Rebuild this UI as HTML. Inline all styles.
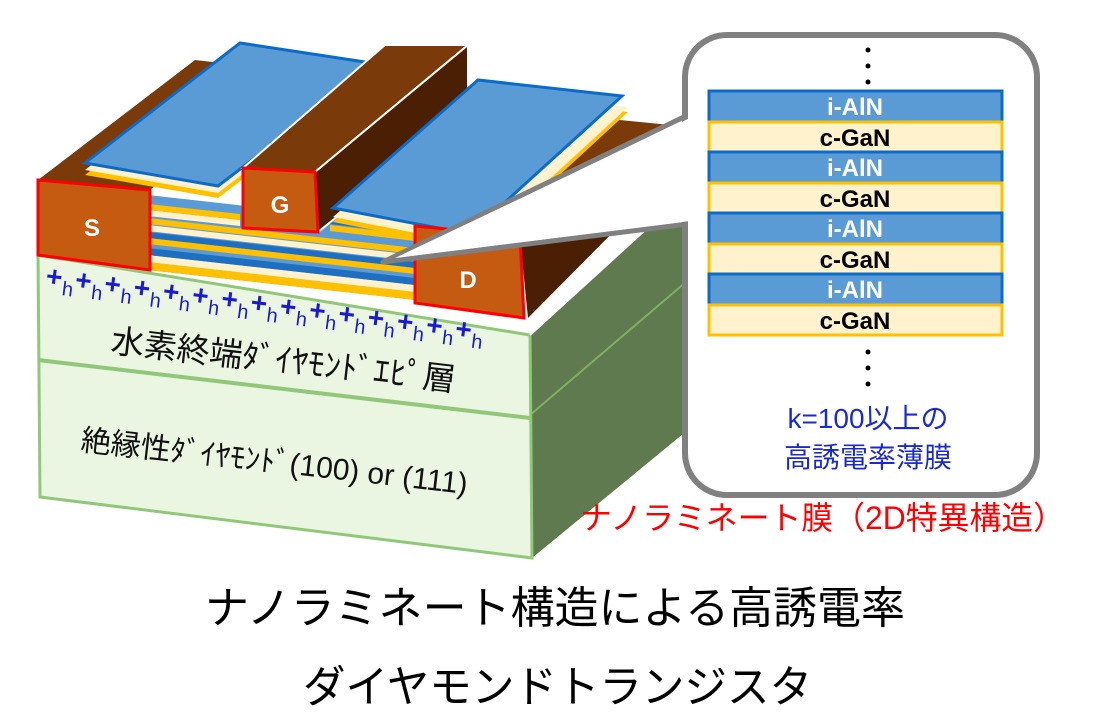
<!DOCTYPE html>
<html><head><meta charset="utf-8"><style>
html,body{margin:0;padding:0;background:#fff;}
svg{display:block;}
text{font-family:"Liberation Sans","Noto Sans CJK JP",sans-serif;}
</style></head><body>
<svg width="1112" height="728" viewBox="0 0 1112 728" xmlns="http://www.w3.org/2000/svg">
<!-- green block -->
<polygon points="530,335 700,180 700,420 532,558" fill="#5f7a4f"/>
<line x1="530" y1="415" x2="700" y2="270" stroke="#7fb060" stroke-width="2"/>
<polygon points="38,255 530,335 532,558 40,497" fill="#eaf6e2" stroke="#90c878" stroke-width="3"/>
<line x1="38" y1="360" x2="530" y2="418" stroke="#90c878" stroke-width="4"/>
<line x1="530" y1="335" x2="700" y2="180" stroke="#fff" stroke-width="2"/>

<!-- S bar top -->
<polygon points="38,180 195,60 300,72 150,190" fill="#7a3a0a"/>
<!-- D bar top -->
<polygon points="415,228 600,118 700,128 520,238" fill="#7a3a0a"/>

<!-- front layer stack between S and D -->
<g>
<polygon points="148,195 415,225 415,300 148,270" fill="#5b9bd5"/>
<polygon points="148,262 415,292 415,300 148,270" fill="#ffc000"/>
<polygon points="148,255 415,285 415,292 148,262" fill="#fff2cc"/>
<polygon points="148,248 415,278 415,285 148,255" fill="#1f6fc0"/>
<polygon points="148,232 415,262 415,268 148,238" fill="#1f6fc0"/>
<polygon points="148,238 415,268 415,274 148,244" fill="#ffc000"/>
<polygon points="148,225 415,255 415,261 148,231" fill="#fff2cc"/>
<polygon points="148,218 415,248 415,254 148,224" fill="#ffc000"/>
<polygon points="148,210 240,220 240,226 148,216" fill="#fff2cc"/>
<polygon points="148,204 240,214 240,220 148,210" fill="#ffc000"/>
<polygon points="330,225 415,235 415,241 330,231" fill="#ffc000"/>
<polygon points="330,218 415,228 415,234 330,224" fill="#1f6fc0"/>
</g>

<!-- S front -->
<polygon points="38,180 150,190 150,270 38,255" fill="#c55a11" stroke="#f00" stroke-width="3"/>
<text x="92" y="236" font-size="24" font-weight="bold" fill="#fff" text-anchor="middle">S</text>

<!-- left plate -->
<polygon points="85,175 240,55 378,76 218,198" fill="#ffc000"/>
<polygon points="85,170 240,50 378,71 218,193" fill="#fff2cc"/>
<polygon points="85,163 240,43 378,64 218,186" fill="#5b9bd5" stroke="#0a6cc8" stroke-width="3"/>

<!-- G bar -->
<polygon points="243,168 385,45 468,45 315,172" fill="#7a3a0a" stroke="#fff" stroke-width="2"/>
<polygon points="315,172 468,45 468,112 318,232" fill="#4a1f04" stroke="#fff" stroke-width="2"/>
<polygon points="243,168 315,172 318,232 243,228" fill="#c55a11" stroke="#f00" stroke-width="3"/>
<text x="280" y="213" font-size="24" font-weight="bold" fill="#fff" text-anchor="middle">G</text>

<!-- right plate -->
<polygon points="333,222 480,95 628,112 478,250" fill="#ffc000"/>
<polygon points="333,217 480,90 628,107 478,245" fill="#fff2cc"/>
<polygon points="333,208 478,80 622,96 470,234" fill="#5b9bd5" stroke="#0a6cc8" stroke-width="3"/>

<!-- D -->
<polygon points="520,238 640,205 528,318" fill="#4a1f04"/>
<polygon points="415,226 520,236 524,318 415,303" fill="#c55a11" stroke="#f00" stroke-width="3"/>
<text x="468" y="288" font-size="24" font-weight="bold" fill="#fff" text-anchor="middle">D</text>

<!-- +h -->
<g transform="translate(45,285) rotate(7.3)" fill="#1a1ad0">
<text x="0" y="0" font-size="28" font-weight="bold" letter-spacing="1">+<tspan font-size="20" font-weight="normal" dy="8">h</tspan><tspan dy="-8">+</tspan><tspan font-size="20" font-weight="normal" dy="8">h</tspan><tspan dy="-8">+</tspan><tspan font-size="20" font-weight="normal" dy="8">h</tspan><tspan dy="-8">+</tspan><tspan font-size="20" font-weight="normal" dy="8">h</tspan><tspan dy="-8">+</tspan><tspan font-size="20" font-weight="normal" dy="8">h</tspan><tspan dy="-8">+</tspan><tspan font-size="20" font-weight="normal" dy="8">h</tspan><tspan dy="-8">+</tspan><tspan font-size="20" font-weight="normal" dy="8">h</tspan><tspan dy="-8">+</tspan><tspan font-size="20" font-weight="normal" dy="8">h</tspan><tspan dy="-8">+</tspan><tspan font-size="20" font-weight="normal" dy="8">h</tspan><tspan dy="-8">+</tspan><tspan font-size="20" font-weight="normal" dy="8">h</tspan><tspan dy="-8">+</tspan><tspan font-size="20" font-weight="normal" dy="8">h</tspan><tspan dy="-8">+</tspan><tspan font-size="20" font-weight="normal" dy="8">h</tspan><tspan dy="-8">+</tspan><tspan font-size="20" font-weight="normal" dy="8">h</tspan><tspan dy="-8">+</tspan><tspan font-size="20" font-weight="normal" dy="8">h</tspan><tspan dy="-8">+</tspan><tspan font-size="20" font-weight="normal" dy="8">h</tspan></text>
</g>
<text transform="translate(110,352) rotate(6.5)" font-size="33" fill="#111">水素終端ﾀﾞｲﾔﾓﾝﾄﾞｴﾋﾟ層</text>
<text transform="translate(80,450) rotate(6.5)" font-size="30" fill="#111">絶縁性ﾀﾞｲﾔﾓﾝﾄﾞ(100) or (111)</text>

<!-- callout -->
<polygon points="688,115 383,262 688,224" fill="#fff" stroke="#808080" stroke-width="5" stroke-linejoin="round"/>
<rect x="685" y="35" width="352" height="460" rx="42" fill="#fff" stroke="#808080" stroke-width="6"/>
<polygon points="690,118 395,258 690,221" fill="#fff"/>

<g font-size="24" font-weight="bold" text-anchor="middle">
<rect x="709" y="91" width="293" height="31" fill="#5b9bd5" stroke="#0a6cc8" stroke-width="3"/>
<rect x="709" y="122" width="293" height="30" fill="#fff2cc" stroke="#ffc000" stroke-width="3"/>
<rect x="709" y="152" width="293" height="31" fill="#5b9bd5" stroke="#0a6cc8" stroke-width="3"/>
<rect x="709" y="183" width="293" height="30" fill="#fff2cc" stroke="#ffc000" stroke-width="3"/>
<rect x="709" y="213" width="293" height="31" fill="#5b9bd5" stroke="#0a6cc8" stroke-width="3"/>
<rect x="709" y="244" width="293" height="30" fill="#fff2cc" stroke="#ffc000" stroke-width="3"/>
<rect x="709" y="274" width="293" height="31" fill="#5b9bd5" stroke="#0a6cc8" stroke-width="3"/>
<rect x="709" y="305" width="293" height="30" fill="#fff2cc" stroke="#ffc000" stroke-width="3"/>
<text x="855" y="115" fill="#fff">i-AlN</text>
<text x="855" y="146" fill="#000">c-GaN</text>
<text x="855" y="176" fill="#fff">i-AlN</text>
<text x="855" y="207" fill="#000">c-GaN</text>
<text x="855" y="237" fill="#fff">i-AlN</text>
<text x="855" y="268" fill="#000">c-GaN</text>
<text x="855" y="298" fill="#fff">i-AlN</text>
<text x="855" y="329" fill="#000">c-GaN</text>
</g>
<g fill="#000">
<circle cx="868" cy="50" r="2.5"/><circle cx="868" cy="66" r="2.5"/><circle cx="868" cy="82" r="2.5"/>
<circle cx="868" cy="352" r="2.5"/><circle cx="868" cy="368" r="2.5"/><circle cx="868" cy="384" r="2.5"/>
</g>
<text x="868" y="428" font-size="28" fill="#1a2ad0" text-anchor="middle">k=100以上の</text>
<text x="868" y="467" font-size="28" fill="#1a2ad0" text-anchor="middle">高誘電率薄膜</text>
<text x="580" y="529" font-size="32" fill="#ff0000" textLength="485" lengthAdjust="spacingAndGlyphs">ナノラミネート膜（2D特異構造）</text>

<text x="205" y="623" font-size="44" fill="#000" textLength="700" lengthAdjust="spacingAndGlyphs">ナノラミネート構造による高誘電率</text>
<text x="303" y="702" font-size="44" fill="#000" textLength="509" lengthAdjust="spacingAndGlyphs">ダイヤモンドトランジスタ</text>
</svg>
</body></html>
